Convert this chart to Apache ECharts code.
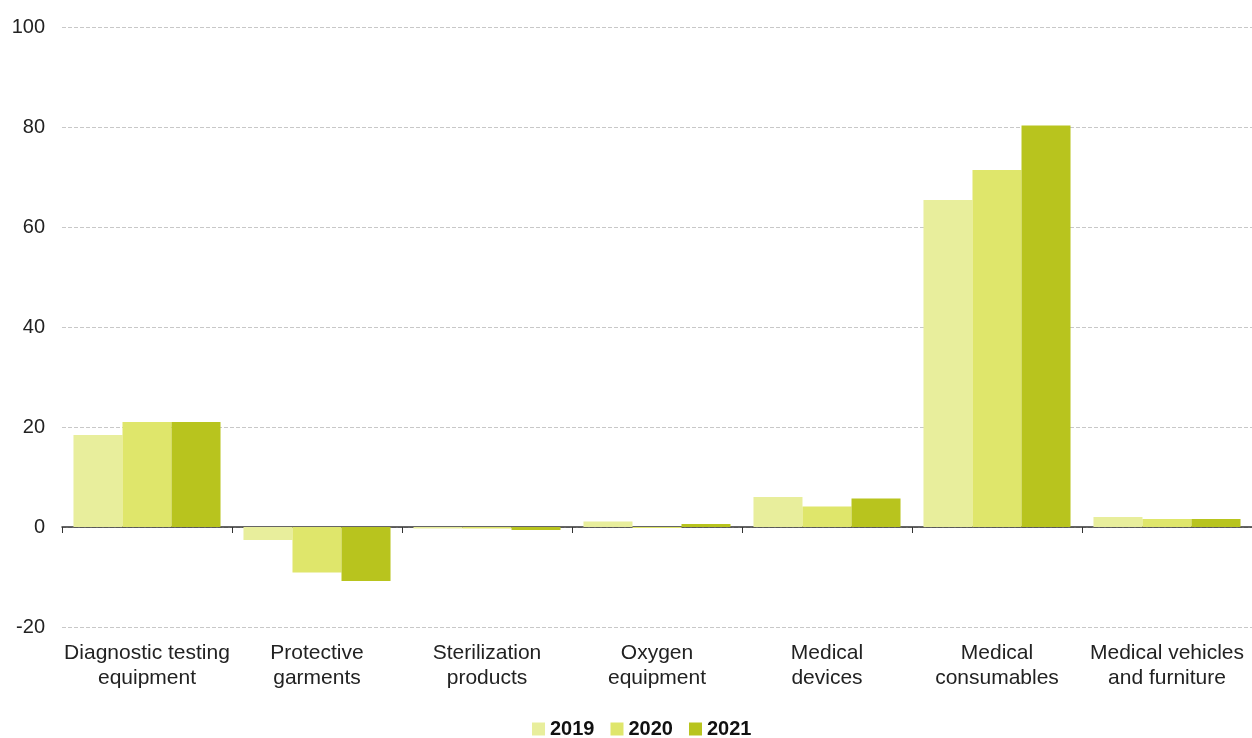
<!DOCTYPE html>
<html><head><meta charset="utf-8">
<script src="https://cdn.jsdelivr.net/npm/echarts@6/dist/echarts.min.js"></script>
<style>html,body{margin:0;padding:0;background:#fff}#c{width:1252px;height:738px}</style>
</head><body><div id="c"></div>
<script>
const categories = ["Diagnostic testing\nequipment","Protective\ngarments","Sterilization\nproducts","Oxygen\nequipment","Medical\ndevices","Medical\nconsumables","Medical vehicles\nand furniture"];
const years = ["2019","2020","2021"];
const values2019 = [18.4, -2.6, -0.3, 1.1, 6.0, 65.4, 2.0];
const values2020 = [21.0, -9.1, -0.3, -0.2, 4.1, 71.4, 1.6];
const values2021 = [21.0, -10.8, -0.6, 0.6, 5.7, 80.3, 1.6];
const colors = ["#e8ee9c", "#dfe66b", "#b8c41e"];
const font = "Liberation Sans, Arial, sans-serif";
const chart = echarts.init(document.getElementById('c'), null, {renderer:'canvas'});
const data = [values2019, values2020, values2021];
chart.setOption({
  animation:false,
  color: colors,
  grid:{left:62, right:0, top:27, bottom:111, containLabel:false},
  legend:{
    top:714, left:527, itemWidth:13, itemHeight:13, itemGap:16, icon:'rect',
    data: years,
    textStyle:{fontFamily:font, fontSize:20, fontWeight:'bold', color:'#111'}
  },
  xAxis:[
    {type:'category', data:categories, position:'bottom',
     axisLine:{onZero:true, lineStyle:{color:'#333', width:1.5}},
     axisTick:{show:true, length:6, lineStyle:{color:'#333'}},
     axisLabel:{show:false}, splitLine:{show:false}},
    {type:'category', data:categories, position:'bottom',
     axisLine:{show:false, onZero:false}, axisTick:{show:false},
     axisLabel:{show:true, interval:0, margin:14, fontFamily:font, fontSize:21, color:'#222', lineHeight:25}}
  ],
  yAxis:{type:'value', min:-20, max:100, interval:20,
    axisLine:{show:false}, axisTick:{show:false},
    axisLabel:{fontFamily:font, fontSize:20, color:'#222', margin:17},
    splitLine:{lineStyle:{color:'#c8c8c8', type:'dashed', width:1}}
  },
  series: years.map((y,i)=>({
    name:y, type:'bar', xAxisIndex:0, data:data[i],
    barGap:'0%', barCategoryGap:'13.5%',
    itemStyle:{color:colors[i]}
  }))
});
</script></body></html>
